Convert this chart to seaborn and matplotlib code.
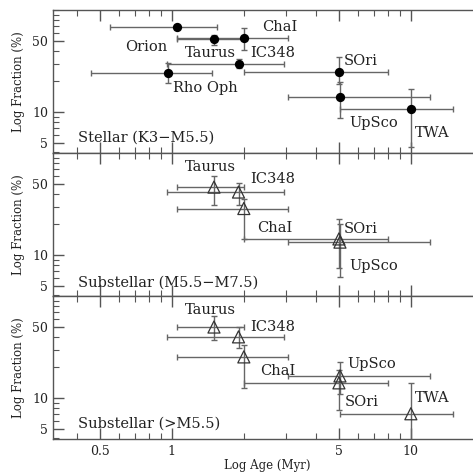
import numpy as np
import pandas as pd
import matplotlib
matplotlib.use('Agg')
import matplotlib.pyplot as plt
import matplotlib.ticker as mticker
import seaborn as sns

# stellar (K3-M5.5)
st_names = ['Orion', 'Taurus', 'ChaI', 'IC348', 'Rho Oph', 'SOri', 'UpSco', 'TWA']
st_age = [1.05, 1.5, 2.0, 1.9, 0.96, 5.0, 5.05, 10.0]
st_age_lo = [0.55, 1.05, 1.05, 0.95, 0.46, 2.0, 3.05, 5.05]
st_age_hi = [1.55, 2.0, 3.05, 2.95, 1.47, 8.0, 12.0, 15.0]
st_frac = [69, 52, 53.5, 30, 24, 25, 14, 10.7]
st_frac_lo = [69, 45.5, 41, 27, 19.3, 19, 8.7, 4.5]
st_frac_hi = [69, 57, 67, 33, 30.4, 35, 19.6, 16.9]

# substellar (M5.5-M7.5)
mid_names = ['Taurus', 'IC348', 'ChaI', 'SOri', 'UpSco']
mid_age = [1.5, 1.9, 2.0, 5.0, 5.05]
mid_age_lo = [1.05, 0.95, 1.05, 2.0, 3.05]
mid_age_hi = [2.0, 2.95, 3.05, 8.0, 12.0]
mid_frac = [46.6, 41.7, 28.7, 14.4, 13.4]
mid_frac_lo = [31, 31, 14.4, 7.5, 6.1]
mid_frac_hi = [60, 51, 36, 22.6, 20]

# substellar (>M5.5)
low_names = ['Taurus', 'IC348', 'ChaI', 'UpSco', 'SOri', 'TWA']
low_age = [1.5, 1.9, 2.0, 5.05, 5.0, 10.0]
low_age_lo = [1.05, 0.95, 1.05, 3.05, 2.0, 5.05]
low_age_hi = [2.0, 2.95, 3.05, 12.0, 8.0, 15.0]
low_frac = [50, 40, 25.4, 16.5, 14.1, 7.0]
low_frac_lo = [37, 31, 12.5, 11, 7.6, 3.0]
low_frac_hi = [64, 50, 33, 22.6, 19, 14.1]

panel_titles = ['Stellar (K3\u2212M5.5)', 'Substellar (M5.5\u2212M7.5)', 'Substellar (>M5.5)']

# label placement (x, y) in data coords
st_lab = {'Orion': (0.636, 43.6), 'Taurus': (1.13, 38.2), 'IC348': (2.12, 38.2),
          'ChaI': (2.38, 68.8), 'Rho Oph': (1.01, 17.2), 'SOri': (5.25, 31.9),
          'UpSco': (5.55, 7.8), 'TWA': (10.4, 6.2)}
mid_lab = {'Taurus': (1.13, 73.5), 'IC348': (2.12, 56), 'ChaI': (2.27, 18.5),
           'SOri': (5.25, 18.1), 'UpSco': (5.55, 7.8)}
low_lab = {'Taurus': (1.13, 73.5), 'IC348': (2.12, 50), 'ChaI': (2.33, 18.5),
           'UpSco': (5.4, 21.6), 'SOri': (5.3, 9.1), 'TWA': (10.4, 10.0)}

sns.set_style('ticks')
plt.rcParams['font.family'] = ['DejaVu Serif']
plt.rcParams['axes.edgecolor'] = '#555555'
plt.rcParams['axes.linewidth'] = 1.0

def make_df(names, age, alo, ahi, frac, flo, fhi):
    df = pd.DataFrame({'name': names, 'age': age, 'age_lo': alo, 'age_hi': ahi,
                       'frac': frac, 'frac_lo': flo, 'frac_hi': fhi})
    return df

panels = [
    (make_df(st_names, st_age, st_age_lo, st_age_hi, st_frac, st_frac_lo, st_frac_hi), st_lab, 'o'),
    (make_df(mid_names, mid_age, mid_age_lo, mid_age_hi, mid_frac, mid_frac_lo, mid_frac_hi), mid_lab, '^'),
    (make_df(low_names, low_age, low_age_lo, low_age_hi, low_frac, low_frac_lo, low_frac_hi), low_lab, '^'),
]

fig = plt.figure(figsize=(4.73, 4.74), dpi=100)
left, width = 53 / 473, 1 - 53 / 473
h = 143 / 474
bottom0 = 1 - 439 / 474

for i, (df, labs, mk) in enumerate(panels):
    ax = fig.add_axes([left, bottom0 + (2 - i) * h, width, h])
    ax.set_xscale('log')
    ax.set_yscale('log')
    xerr = [df['age'] - df['age_lo'], df['age_hi'] - df['age']]
    yerr = [df['frac'] - df['frac_lo'], df['frac_hi'] - df['frac']]
    ax.errorbar(df['age'], df['frac'], xerr=xerr, yerr=yerr, fmt='none',
                ecolor='#666666', elinewidth=1.0, capsize=2.5, capthick=1.0, zorder=2)
    if mk == 'o':
        sns.scatterplot(data=df, x='age', y='frac', marker='o', s=45, color='black',
                        edgecolor='black', linewidth=0, ax=ax, zorder=3)
    else:
        sns.scatterplot(data=df, x='age', y='frac', marker='^', s=75, facecolor='none',
                        edgecolor='#333333', linewidth=0.9, ax=ax, zorder=3)
    for name, (tx, ty) in labs.items():
        ax.text(tx, ty, name, fontsize=10.5, va='center', ha='left', color='#222222')
    ax.text(0.404, 5.6 if i != 1 else 5.4, panel_titles[i], fontsize=10.5,
            va='center', ha='left', color='#222222')

    ax.set_xlim(0.318, 18.2)
    ax.set_ylim(3.95, 101)
    ax.xaxis.set_major_locator(mticker.FixedLocator([0.5, 1, 5, 10]))
    ax.xaxis.set_minor_locator(mticker.FixedLocator([0.4, 0.6, 0.7, 0.8, 0.9, 2, 3, 4, 6, 7, 8, 9]))
    ax.yaxis.set_major_locator(mticker.FixedLocator([5, 10, 50]))
    ax.yaxis.set_minor_locator(mticker.LogLocator(base=10, subs=np.arange(1, 10)))
    ax.yaxis.set_major_formatter(mticker.FixedFormatter(['5', '10', '50']))
    ax.yaxis.set_minor_formatter(mticker.NullFormatter())
    ax.xaxis.set_minor_formatter(mticker.NullFormatter())
    if i == 2:
        ax.xaxis.set_major_formatter(mticker.FixedFormatter(['0.5', '1', '5', '10']))
    else:
        ax.xaxis.set_major_formatter(mticker.NullFormatter())
    ax.set_xlabel('')
    ax.set_ylabel('Log Fraction (%)', fontsize=8.5, color='#222222', labelpad=5)
    ax.tick_params(which='both', direction='in', top=True, bottom=True, left=True,
                   right=False, colors='#555555', labelcolor='#222222', labelsize=9)
    ax.tick_params(which='major', length=8, width=1.0)
    ax.tick_params(which='minor', length=4.5, width=0.8)
    ax.tick_params(axis='x', which='major', pad=4)
    ax.spines['right'].set_visible(False)

fig.text(267 / 473, 1 - 466 / 474, 'Log Age (Myr)', fontsize=8.5, color='#222222',
         ha='center', va='center')

fig.savefig('out.png', dpi=100)
